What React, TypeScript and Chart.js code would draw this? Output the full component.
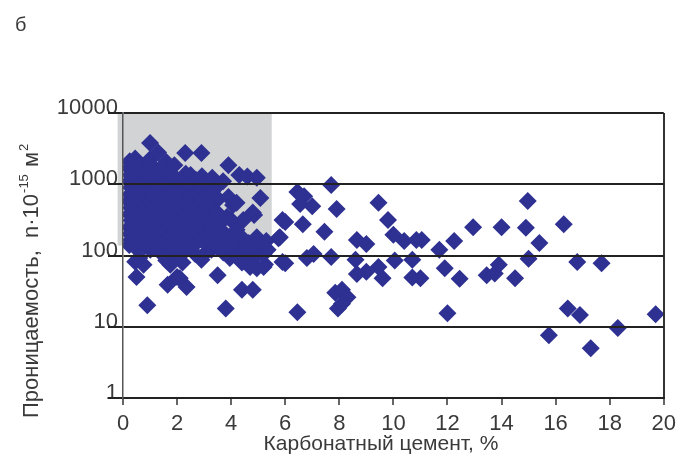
import React, { useEffect, useRef } from "react";
import { Chart, registerables } from "chart.js";

Chart.register(...registerables);

// Carbonate cement, % (x) and permeability, n·10^-15 m² (y) — parallel arrays
const carbonate: number[] = [
  // dense cluster
  0.25, 0.22, 0.28, 0.24, 0.3, 0.26, 0.22, 0.29, 0.25, 0.31, 0.24, 0.27, 0.3, 0.23,
  0.45, 0.48, 0.42, 0.47, 0.44, 0.5, 0.43, 0.46,
  0.62, 0.58, 0.64, 0.6, 0.57, 0.63, 0.61, 0.6,
  0.8, 0.78, 0.83, 0.79, 0.82, 0.77, 0.81, 0.76,
  1.0, 0.98, 1.03, 0.97, 1.02, 0.99, 1.04, 0.96, 1.01,
  1.15, 1.18, 1.13, 1.17, 1.14, 1.19, 1.16,
  1.3, 1.32, 1.28, 1.33, 1.29, 1.31, 1.27, 1.34,
  1.5, 1.48, 1.53, 1.47, 1.52, 1.49,
  1.6,
  1.7, 1.73, 1.68, 1.72, 1.69, 1.74, 1.71,
  1.9, 1.92, 1.88, 1.93, 1.89, 1.91, 1.87, 1.94,
  2.1, 2.12, 2.08, 2.13, 2.09, 2.11,
  2.3, 2.32, 2.28, 2.33, 2.29, 2.31, 2.27, 2.34,
  2.5, 2.52, 2.48, 2.53, 2.49, 2.51, 2.47,
  2.7, 2.72, 2.68, 2.73, 2.69, 2.71, 2.67,
  2.9, 2.92, 2.88, 2.93, 2.89, 2.91, 2.87,
  3.1, 3.12, 3.08, 3.13, 3.09, 3.11, 3.07,
  3.3, 3.32, 3.28, 3.33, 3.29, 3.31, 3.27,
  3.5, 3.52, 3.48, 3.53, 3.49, 3.51,
  3.7, 3.72, 3.68, 3.71,
  // right part of cluster
  3.85, 3.9, 3.9, 3.95, 4.0, 4.0, 4.05, 4.07, 4.2, 4.2, 4.25, 4.2, 4.3, 4.45, 4.45,
  4.5, 4.4, 4.6, 4.65, 4.6, 4.7, 4.8, 4.85, 4.85, 4.8, 4.95, 4.95, 5.0, 4.95, 5.08,
  5.1, 5.2, 5.25, 5.3, 5.35, 5.75, 5.8, 5.9, 6.0, 5.9, 6.0, 5.2,
  // low scatter near cluster
  0.5, 0.45, 0.9, 1.75, 1.65, 2.1, 2.35, 2.0, 3.5, 2.9, 3.8, 4.4, 4.8, 1.6, 2.2,
  // middle
  6.45, 6.45, 6.7, 6.55, 7.0, 7.7, 7.9, 9.45, 9.8, 6.65, 7.45, 8.65, 9.0, 10.0, 10.4,
  10.85, 6.8, 7.05, 7.7, 8.6, 8.65, 9.0, 9.45, 9.6, 10.05, 10.7, 10.7, 7.85, 8.1, 8.3,
  7.95, 8.1,
  // right
  11.05, 11.7, 12.25, 12.95, 14.0, 14.9, 14.97, 16.3, 15.4, 15.0, 16.8, 17.7, 11.9,
  12.45, 13.45, 13.75, 13.9, 14.5, 11.0, 12.0, 16.45, 16.9, 19.7, 15.75, 18.3, 17.3,
];

const permeability: number[] = [
  2100, 1700, 1350, 1100, 900, 720, 580, 470, 380, 310, 250, 200, 165, 140,
  2300, 1600, 1000, 640, 420, 270, 180, 130,
  1900, 1250, 800, 520, 340, 220, 150, 92,
  1500, 1050, 700, 450, 300, 195, 135, 74,
  3800, 2200, 1300, 880, 600, 400, 260, 170, 120,
  1700, 1000, 680, 460, 320, 210, 145,
  2800, 1500, 900, 560, 370, 240, 160, 115,
  1200, 780, 500, 330, 220, 150,
  2050,
  1600, 1000, 650, 420, 280, 185, 130,
  1850, 1250, 820, 540, 350, 230, 160, 110,
  1100, 700, 450, 300, 200, 140,
  2750, 1400, 880, 580, 380, 250, 170, 120,
  1350, 1000, 650, 430, 280, 190, 130,
  1150, 760, 500, 330, 220, 150, 105,
  2750, 1300, 880, 580, 380, 250, 170,
  1050, 700, 450, 300, 200, 140, 110,
  1230, 820, 540, 350, 230, 160, 120,
  950, 620, 400, 270, 180, 130,
  1100, 210, 150, 110,
  350, 1850, 660, 92, 315, 180, 130, 510, 550, 230, 140, 100, 1350, 315, 170,
  120, 80, 1280, 150, 95, 69, 400, 370, 130, 90, 1230, 66, 110, 180, 640,
  140, 105, 75, 160, 120, 175, 180, 315, 295, 81, 78, 69,
  50, 82, 20, 74, 39, 48, 36, 50, 53, 87, 18, 33, 33, 85, 80,
  16, 780, 680, 530, 490, 980, 450, 550, 315, 275, 215, 165, 145, 195, 160,
  165, 92, 105, 95, 87, 55, 59, 69, 48, 85, 87, 49, 30, 33, 26,
  18, 21,
  165, 120, 160, 250, 250, 245, 580, 275, 150, 90, 81, 78, 66,
  47, 53, 56, 74, 48, 48, 15.5, 18, 14.6, 15, 7.6, 9.6, 5.0,
];

const xTicks = [0, 2, 4, 6, 8, 10, 12, 14, 16, 18, 20];
const yTicks = [1, 10, 100, 1000, 10000];
const shadeX = [-0.2, 5.5];
const shadeY = [138, 10000];

const panelLabel = "б";
const xTitle = "Карбонатный цемент, %";
const yTitleMain = "Проницаемость,  n·10";
const yTitleSup1 = "-15";
const yTitleMid = " м";
const yTitleSup2 = "2";

const MARK = "#2e3192";
const TEXT = "#3a3a3a";
const FONT = "'Liberation Sans', Arial, sans-serif";

export default function App() {
  const ref = useRef<HTMLCanvasElement | null>(null);

  useEffect(() => {
    if (!ref.current) return;
    const points = carbonate.map((x, i) => ({ x, y: permeability[i] }));

    const shadePlugin = {
      id: "shade",
      beforeDraw(chart: any) {
        const { ctx, scales } = chart;
        const xs = scales.x;
        const ys = scales.y;
        const x0 = xs.getPixelForValue(shadeX[0]);
        const x1 = xs.getPixelForValue(shadeX[1]);
        const y0 = ys.getPixelForValue(shadeY[1]);
        const y1 = ys.getPixelForValue(shadeY[0]);
        ctx.save();
        ctx.fillStyle = "#d1d3d4";
        ctx.fillRect(x0, y0, x1 - x0, y1 - y0);
        ctx.restore();
      },
    };

    const textPlugin = {
      id: "texts",
      afterDraw(chart: any) {
        const { ctx, chartArea } = chart;
        ctx.save();
        ctx.fillStyle = TEXT;
        // panel label
        ctx.font = `20px ${FONT}`;
        ctx.textBaseline = "middle";
        ctx.textAlign = "left";
        ctx.fillText(panelLabel, 15, 25);
        // x title
        ctx.font = `21px ${FONT}`;
        ctx.textAlign = "center";
        ctx.fillText(xTitle, chartArea.left + 258, 444);
        // y title (rotated, with superscripts)
        ctx.translate(32, 418);
        ctx.rotate(-Math.PI / 2);
        ctx.textAlign = "left";
        ctx.textBaseline = "middle";
        let pos = 0;
        ctx.font = `22px ${FONT}`;
        ctx.fillText(yTitleMain, pos, 0);
        pos += ctx.measureText(yTitleMain).width;
        ctx.font = `13px ${FONT}`;
        ctx.fillText(yTitleSup1, pos + 1, -8);
        pos += ctx.measureText(yTitleSup1).width + 2;
        ctx.font = `22px ${FONT}`;
        ctx.fillText(yTitleMid, pos, 0);
        pos += ctx.measureText(yTitleMid).width;
        ctx.font = `13px ${FONT}`;
        ctx.fillText(yTitleSup2, pos + 1, -8);
        ctx.restore();
      },
    };

    const chart = new Chart(ref.current, {
      type: "scatter",
      data: {
        datasets: [
          {
            data: points,
            pointStyle: "rectRot",
            pointRadius: 9,
            pointHoverRadius: 9,
            backgroundColor: MARK,
            borderColor: MARK,
            borderWidth: 0,
          },
        ],
      },
      options: {
        animation: false,
        responsive: true,
        maintainAspectRatio: false,
        layout: { padding: { left: 0, top: 113, right: 18, bottom: 0 } },
        plugins: {
          legend: { display: false },
          tooltip: { enabled: false },
          title: { display: false },
        },
        scales: {
          x: {
            type: "linear",
            min: 0,
            max: 20,
            afterBuildTicks: (scale: any) => {
              scale.ticks = xTicks.map((v) => ({ value: v }));
            },
            afterFit: (scale: any) => {
              scale.height = 60;
            },
            grid: {
              z: 1,
              drawOnChartArea: true,
              color: (c: any) => (c.tick && c.tick.value === 20 ? "#333" : "rgba(0,0,0,0)"),
              lineWidth: 2,
              tickColor: "#333",
              tickWidth: 1.5,
              tickLength: 7,
            },
            border: { z: 1, display: true, color: "#222", width: 2 },
            ticks: {
              color: TEXT,
              font: { family: FONT, size: 22 },
              padding: 6,
              maxRotation: 0,
              autoSkip: false,
            },
          },
          y: {
            type: "logarithmic",
            min: 1,
            max: 10000,
            afterBuildTicks: (scale: any) => {
              scale.ticks = yTicks.map((v) => ({ value: v }));
            },
            afterFit: (scale: any) => {
              scale.width = 123;
            },
            grid: {
              z: 1,
              color: "#222",
              lineWidth: 2,
              tickLength: 15,
            },
            border: { z: 1, display: true, color: "#555", width: 1.5 },
            ticks: {
              color: TEXT,
              font: { family: FONT, size: 22 },
              padding: -10,
              labelOffset: -5,
              autoSkip: false,
              callback: (v: any) => String(v),
            },
          },
        },
      },
      plugins: [shadePlugin, textPlugin],
    });
    return () => chart.destroy();
  }, []);

  return (
    <div style={{ position: "absolute", left: 0, top: 0, width: 682, height: 458, background: "#fff" }}>
      <canvas ref={ref} />
    </div>
  );
}
